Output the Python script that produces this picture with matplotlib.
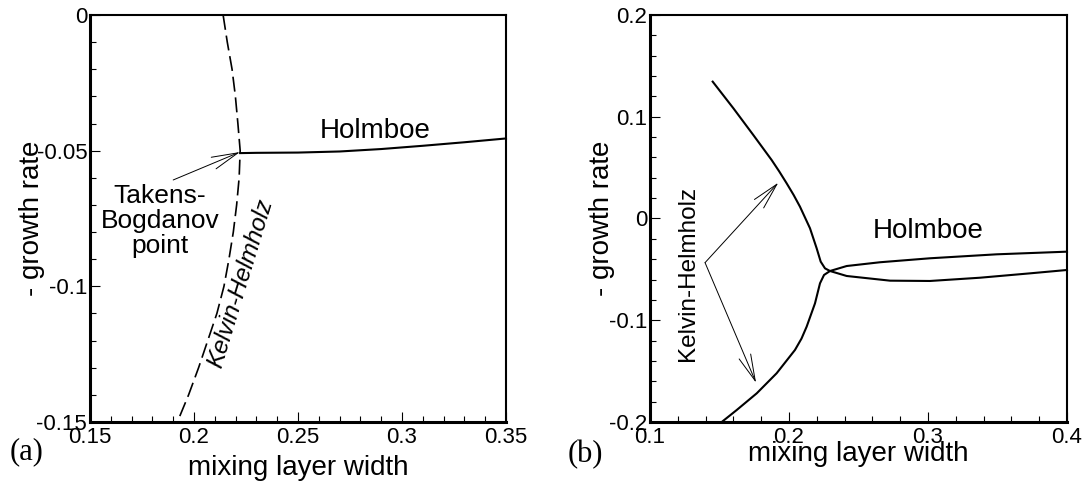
import matplotlib
matplotlib.use("Agg")
import matplotlib.pyplot as plt
from matplotlib.ticker import MultipleLocator, FixedLocator

plt.rcParams['font.family'] = ['Liberation Sans', 'DejaVu Sans']
plt.rcParams['axes.unicode_minus'] = False

# ---------------- data: panel (a) ----------------
a_kh_x = [0.2140, 0.2160, 0.2183, 0.2199, 0.2211, 0.2222, 0.2217, 0.2205,
          0.2189, 0.2168, 0.2144, 0.2110, 0.2066, 0.2022, 0.1974, 0.1920]
a_kh_y = [0.0, -0.01, -0.02, -0.03, -0.04, -0.05, -0.06, -0.07,
          -0.08, -0.09, -0.10, -0.11, -0.12, -0.13, -0.14, -0.15]
a_hol_x = [0.2222, 0.23, 0.25, 0.27, 0.29, 0.31, 0.33, 0.35]
a_hol_y = [-0.0509, -0.0508, -0.0507, -0.0503, -0.0494, -0.0482, -0.0469, -0.0455]
a_xticks = [0.15, 0.2, 0.25, 0.3, 0.35]
a_xticklabels = ['0.15', '0.2', '0.25', '0.3', '0.35']
a_yticks = [0.0, -0.05, -0.1, -0.15]
a_yticklabels = ['0', '-0.05', '-0.1', '-0.15']

# ---------------- data: panel (b) ----------------
# upper Kelvin-Helmholz branch continuing into lower Holmboe branch
b_c1_x = [0.1451, 0.1600, 0.1743, 0.1875, 0.1930, 0.1983, 0.2033, 0.2079, 0.2151, 0.2199,
          0.2228, 0.2259, 0.2295, 0.2415, 0.2727, 0.3014, 0.3374, 0.3734, 0.4]
b_c1_y = [0.1345, 0.1083, 0.0821, 0.0575, 0.0462, 0.0346, 0.0232, 0.0116, -0.0096, -0.0293,
          -0.0424, -0.0490, -0.0516, -0.0565, -0.0611, -0.0614, -0.0582, -0.0539, -0.0506]
# lower Kelvin-Helmholz branch continuing into upper Holmboe branch
b_c2_x = [0.1516, 0.1624, 0.1768, 0.1911, 0.2043, 0.2090, 0.2127, 0.2187, 0.2223,
          0.2252, 0.2295, 0.2415, 0.2655, 0.3014, 0.3494, 0.4]
b_c2_y = [-0.2, -0.1882, -0.1718, -0.1521, -0.1292, -0.1180, -0.1063, -0.0834, -0.0637,
          -0.0555, -0.0516, -0.0467, -0.0430, -0.0391, -0.0352, -0.0326]
b_xticks = [0.1, 0.2, 0.3, 0.4]
b_xticklabels = ['0.1', '0.2', '0.3', '0.4']
b_yticks = [0.2, 0.1, 0.0, -0.1, -0.2]
b_yticklabels = ['0.2', '0.1', '0', '-0.1', '-0.2']

fig = plt.figure(figsize=(10.88, 4.86), dpi=100)
axa = fig.add_axes([90 / 1088, 64 / 486, 416 / 1088, 407 / 486])
axb = fig.add_axes([650 / 1088, 64 / 486, 417 / 1088, 407 / 486])

def style(ax, xlim, ylim, xt, xtl, yt, ytl, xminor, yminor):
    ax.set_xlim(*xlim)
    ax.set_ylim(*ylim)
    ax.xaxis.set_major_locator(FixedLocator(xt))
    ax.set_xticklabels(xtl)
    ax.yaxis.set_major_locator(FixedLocator(yt))
    ax.set_yticklabels(ytl)
    ax.xaxis.set_minor_locator(MultipleLocator(xminor))
    ax.yaxis.set_minor_locator(MultipleLocator(yminor))
    ax.tick_params(which='both', direction='in', top=False, right=False,
                   width=0.8, labelsize=16)
    ax.tick_params(which='major', length=7)
    ax.tick_params(which='minor', length=4.5)
    ax.tick_params(axis='x', which='major', pad=3.5)
    ax.tick_params(axis='y', which='major', pad=2)
    ax.spines['left'].set_linewidth(2.2)
    ax.spines['bottom'].set_linewidth(2.2)
    ax.spines['top'].set_linewidth(1.5)
    ax.spines['right'].set_linewidth(1.5)

style(axa, (0.15, 0.35), (-0.15, 0.0), a_xticks, a_xticklabels,
      a_yticks, a_yticklabels, 0.01, 0.01)
style(axb, (0.1, 0.4), (-0.2, 0.2), b_xticks, b_xticklabels,
      b_yticks, b_yticklabels, 0.02, 0.02)

# ---- panel (a) ----
axa.plot(a_kh_x, a_kh_y, color='black', lw=1.2, linestyle=(0, (9, 3.5)), clip_on=False)
axa.plot(a_hol_x, a_hol_y, color='black', lw=1.5, clip_on=False)
arrow_a = dict(arrowstyle='->,head_length=1.9,head_width=0.45', lw=0.7,
               color='black', shrinkA=0, shrinkB=0, mutation_scale=10)
axa.annotate('', xy=(0.2221, -0.0505), xytext=(0.190, -0.0608), arrowprops=arrow_a)
axa.text(0.1837, -0.0760, 'Takens-\nBogdanov\npoint', fontsize=19,
         ha='center', va='center', linespacing=1.05)
axa.text(0.2222, -0.0988, 'Kelvin-Helmholz', fontsize=17.5, style='italic',
         rotation=73, ha='center', va='center', rotation_mode='anchor')
axa.text(0.2869, -0.0426, 'Holmboe', fontsize=20, ha='center', va='center')
axa.set_xlabel('mixing layer width', fontsize=20, va='center')
axa.xaxis.set_label_coords(0.5, -0.113)
axa.set_ylabel('- growth rate', fontsize=20, va='center')
axa.yaxis.set_label_coords(-0.139, 0.5)

# ---- panel (b) ----
axb.plot(b_c1_x, b_c1_y, color='black', lw=1.5, clip_on=False)
axb.plot(b_c2_x, b_c2_y, color='black', lw=1.5, clip_on=False)
axb.annotate('', xy=(0.1923, 0.0352), xytext=(0.1396, -0.0434), arrowprops=arrow_a)
axb.annotate('', xy=(0.1763, -0.1614), xytext=(0.1396, -0.0434), arrowprops=arrow_a)
axb.text(0.1276, -0.0539, 'Kelvin-Helmholz', fontsize=17.5, rotation=90,
         ha='center', va='center', rotation_mode='anchor')
axb.text(0.3002, -0.0123, 'Holmboe', fontsize=20, ha='center', va='center')
axb.set_xlabel('mixing layer width', fontsize=20, va='center')
axb.xaxis.set_label_coords(0.5, -0.0786)
axb.set_ylabel('- growth rate', fontsize=20, va='center')
axb.yaxis.set_label_coords(-0.115, 0.5)

fig.text(27 / 1088, 1 - 452 / 486, '(a)', fontsize=22, family='Liberation Serif',
         ha='center', va='center')
fig.text(585 / 1088, 1 - 455 / 486, '(b)', fontsize=22, family='Liberation Serif',
         ha='center', va='center')

fig.savefig('out.png', dpi=100)
